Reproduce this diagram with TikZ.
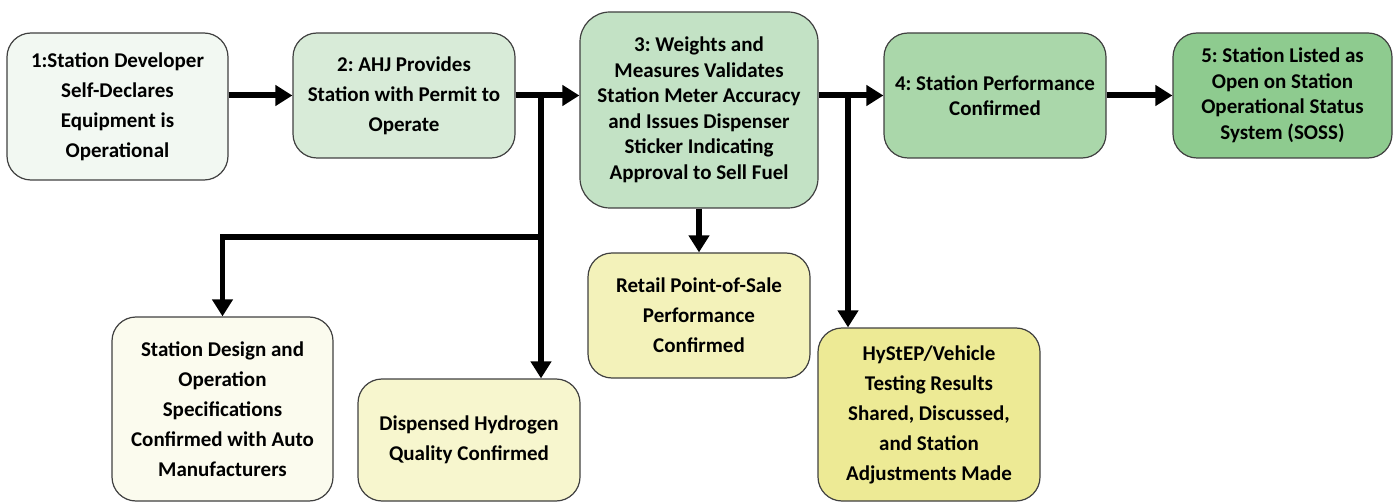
\documentclass[tikz,border=0pt]{standalone}
\usepackage{fontspec}
\setmainfont{Carlito}
\usepackage{xcolor}
\usepackage{tikz}
\usetikzlibrary{arrows.meta, positioning}

\definecolor{gA}{HTML}{F2F8F2}
\definecolor{gB}{HTML}{D8EBD8}
\definecolor{gC}{HTML}{C3E2C5}
\definecolor{gD}{HTML}{AAD7AA}
\definecolor{gE}{HTML}{8ECB8F}
\definecolor{yA}{HTML}{FBFBEE}
\definecolor{yB}{HTML}{F7F6CE}
\definecolor{yC}{HTML}{F3F2BA}
\definecolor{yD}{HTML}{EDEA95}

\tikzset{
  box/.style={draw=black!75, line width=0.6pt, rounded corners=12pt, align=center,
    inner sep=0pt, font=\fontsize{10.5}{15}\selectfont\bfseries\frenchspacing},
  tight/.style={font=\fontsize{10.5}{12.75}\selectfont\bfseries\frenchspacing},
  arr/.style={->, line width=3pt}
}

\begin{document}
\begin{tikzpicture}[x=0.5pt, y=-0.5pt, >={Triangle[length=8.5pt,width=10pt]}]
    \useasboundingbox (0,0) rectangle (1397,502);
    % 1. Hàng trên
    \node[box, fill=gA, minimum width=110.5pt, minimum height=73.5pt] (b1) at (117.5,106.5)
        {1:Station Developer\\Self-Declares\\Equipment is\\Operational};
    \node[box, fill=gB, minimum width=111pt, minimum height=62.5pt] (b2) at (404,95.5)
        {2: AHJ Provides\\Station with Permit to\\Operate};
    \node[box, tight, fill=gC, minimum width=119pt, minimum height=98pt, rounded corners=15pt] (b3) at (699,110)
        {3: Weights and\\Measures Validates\\Station Meter Accuracy\\and Issues Dispenser\\Sticker Indicating\\Approval to Sell Fuel};
    \node[box, tight, fill=gD, minimum width=111pt, minimum height=62.5pt] (b4) at (995,95.5)
        {4: Station Performance\\Confirmed};
    \node[box, tight, fill=gE, minimum width=109.5pt, minimum height=62.5pt] (b5) at (1282.5,95.5)
        {5: Station Listed as\\Open on Station\\Operational Status\\System (SOSS)};

    % 2. Hàng dưới
    \node[box, fill=yA, minimum width=110.5pt, minimum height=92pt] (sd) at (222.5,409)
        {Station Design and\\Operation\\Specifications\\Confirmed with Auto\\Manufacturers};
    \node[box, fill=yB, minimum width=111pt, minimum height=61pt] (dq) at (469,440)
        {Dispensed Hydrogen\\Quality Confirmed};
    \node[box, fill=yC, minimum width=111pt, minimum height=62.5pt] (rp) at (699,315.5)
        {Retail Point-of-Sale\\Performance\\Confirmed};
    \node[box, fill=yD, minimum width=111pt, minimum height=86.5pt] (hy) at (929,414.5)
        {HyStEP/Vehicle\\Testing Results\\Shared, Discussed,\\and Station\\Adjustments Made};

    % 3. Mũi tên
    \coordinate (j1) at (541,96);
    \coordinate (j2) at (848,96);
    \coordinate (k1) at (541,237);
    \draw[arr] (b2.west -| b1.east) -- (b2.west);
    \draw[arr] (b2.east) -- (b2.east -| b3.west);
    \draw[arr] (b4.east -| b3.east) -- (b4.west);
    \draw[arr] (b4.east) -- (b5.west);
    \draw[arr] (b3.south) -- (rp.north);
    \draw[arr, line width=2.6pt] (j1) -- (j1 |- dq.north);
    \draw[arr, line width=2.6pt] (k1) -- (k1 -| sd.north) -- (sd.north);
    \draw[arr, line width=2.6pt] (j2) -- (j2 |- hy.north);
\end{tikzpicture}
\end{document}
